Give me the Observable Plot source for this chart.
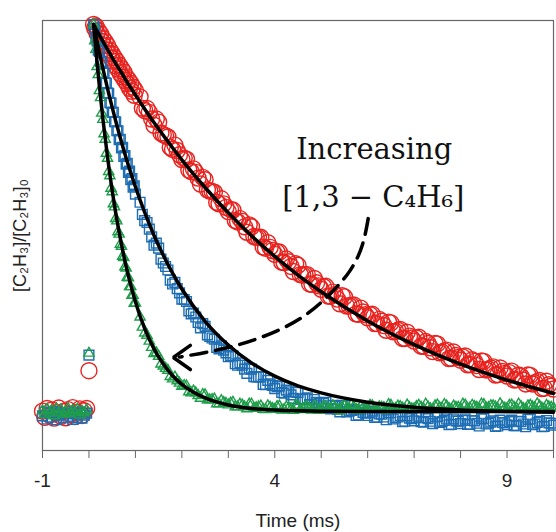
<!DOCTYPE html>
<html>
<head>
<meta charset="utf-8">
<script src="https://cdn.jsdelivr.net/npm/d3@7"></script>
<script src="https://cdn.jsdelivr.net/npm/@observablehq/plot@0.6"></script>
<style>
  html, body { margin: 0; padding: 0; background: #fff; }
  #chart { width: 556px; height: 532px; }
</style>
</head>
<body>
<div id="chart"></div>
<script>
// ---- time grids (ms) ----
const preTimes = d3.range(-1, -0.0499, 0.05);          // 20 pre-trigger samples
const decayTimes = [...d3.range(0.1, 1.0001, 0.025), ...d3.range(1.1, 10.0001, 0.1)]; // 127 samples
const midTimes = d3.range(1.15, 9.9501, 0.1);          // 89 in-between samples
const spikeTime = [0.0];

// ---- series labels ----
const series = ["low", "mid", "high"];

// ---- pre-trigger values ----
const redPre   = [0.006,-0.010,0.013,-0.004,0.009,-0.012,0.002,0.014,-0.007,0.005,-0.011,0.010,-0.002,0.015,-0.008,0.003,0.012,-0.005,0.007,0.013];
const bluePre  = [-0.006,0.004,-0.014,0.001,-0.009,0.005,-0.016,-0.003,0.002,-0.011,0.000,-0.007,0.004,-0.015,-0.001,-0.010,0.003,-0.012,-0.004,0.001];
const greenPre = [0.007,-0.003,0.011,0.001,0.008,-0.006,0.012,0.002,0.009,-0.002,0.005,0.013,0.000,0.008,0.003,0.011,-0.004,0.006,0.002,0.009];

// ---- spike at t = 0 ----
const redSpike = [0.11];
const blueSpike = [0.15];
const greenSpike = [0.155];

// ---- decay data (main grid) ----
const redDecay = [
  1.000,0.990,0.996,0.977,0.985,0.966,0.976,0.957,0.964,0.945,0.956,0.935,0.946,0.925,0.934,0.914,0.925,0.905,0.915,0.894,
  0.906,0.885,0.896,0.874,0.887,0.865,0.878,0.856,0.866,0.847,0.858,0.836,0.849,0.828,0.839,0.818,0.830,
  0.814,0.779,0.774,0.741,0.749,0.717,0.711,0.679,0.676,0.653,
  0.654,0.622,0.620,0.590,0.601,0.572,0.569,0.539,0.539,0.519,
  0.523,0.493,0.494,0.466,0.480,0.453,0.453,0.425,0.427,0.409,
  0.415,0.388,0.390,0.365,0.381,0.356,0.357,0.332,0.336,0.319,
  0.327,0.301,0.306,0.282,0.300,0.277,0.279,0.255,0.261,0.246,
  0.255,0.231,0.237,0.214,0.233,0.211,0.216,0.193,0.199,0.186,
  0.196,0.173,0.180,0.159,0.179,0.158,0.163,0.142,0.149,0.137,
  0.148,0.126,0.134,0.113,0.134,0.114,0.120,0.100,0.108,0.096,
  0.109,0.087,0.096,0.076,0.098,0.079,0.085,0.065,0.074,0.063
];
const blueDecay = [
  1.000,0.990,0.964,0.958,0.934,0.931,0.905,0.902,0.877,0.875,0.850,0.849,0.824,0.823,0.799,0.798,0.774,0.774,0.750,0.750,
  0.727,0.727,0.704,0.705,0.683,0.684,0.661,0.663,0.641,0.643,0.620,0.623,0.601,0.604,0.582,0.585,0.564,
  0.543,0.496,0.474,0.433,0.425,0.387,0.369,0.333,0.321,0.294,
  0.288,0.256,0.248,0.220,0.224,0.198,0.191,0.166,0.163,0.146,
  0.148,0.124,0.124,0.103,0.114,0.094,0.094,0.074,0.076,0.064,
  0.071,0.052,0.056,0.039,0.054,0.037,0.040,0.023,0.029,0.020,
  0.029,0.012,0.019,0.004,0.020,0.006,0.011,-0.004,0.003,-0.005,
  0.006,-0.010,-0.002,-0.016,0.002,-0.011,-0.005,-0.020,-0.012,-0.019,
  -0.007,-0.022,-0.013,-0.026,-0.008,-0.021,-0.014,-0.028,-0.019,-0.026,
  -0.014,-0.028,-0.019,-0.032,-0.013,-0.025,-0.019,-0.032,-0.023,-0.029,
  -0.017,-0.031,-0.021,-0.034,-0.014,-0.027,-0.020,-0.033,-0.024,-0.030
];
const greenDecay = [
  1.000,0.958,0.936,0.892,0.871,0.830,0.812,0.772,0.756,0.719,0.705,0.669,0.656,0.622,0.611,0.579,0.570,0.539,0.531,0.501,
  0.495,0.467,0.461,0.435,0.430,0.404,0.401,0.377,0.374,0.350,0.349,0.326,0.326,0.304,0.304,0.283,0.284,
  0.248,0.207,0.186,0.154,0.147,0.122,0.111,0.089,0.084,0.070,
  0.071,0.053,0.053,0.039,0.048,0.035,0.037,0.025,0.028,0.022,
  0.029,0.017,0.022,0.012,0.024,0.015,0.019,0.010,0.016,0.011,
  0.019,0.010,0.015,0.008,0.020,0.012,0.016,0.009,0.014,0.010,
  0.018,0.011,0.015,0.007,0.019,0.012,0.017,0.009,0.014,0.011,
  0.020,0.012,0.016,0.009,0.021,0.013,0.018,0.010,0.015,0.012,
  0.021,0.013,0.017,0.010,0.022,0.014,0.019,0.011,0.016,0.013,
  0.022,0.014,0.018,0.011,0.023,0.015,0.020,0.012,0.017,0.013,
  0.022,0.014,0.018,0.011,0.021,0.015,0.019,0.012,0.017,0.014
];

// ---- decay data (in-between samples, t = 1.15 ... 9.95) ----
const redMid = [
  0.785,0.784,0.757,0.757,0.721,0.714,0.684,0.690,0.665,0.656,
  0.626,0.629,0.605,0.607,0.575,0.571,0.543,0.552,0.530,0.524,
  0.496,0.501,0.480,0.485,0.455,0.453,0.428,0.439,0.419,0.415,
  0.389,0.397,0.378,0.385,0.357,0.357,0.333,0.347,0.328,0.326,
  0.302,0.312,0.294,0.303,0.276,0.278,0.256,0.271,0.254,0.254,
  0.231,0.242,0.226,0.235,0.210,0.214,0.193,0.209,0.194,0.194,
  0.173,0.185,0.169,0.180,0.156,0.161,0.141,0.158,0.144,0.145,
  0.125,0.138,0.123,0.135,0.112,0.117,0.099,0.117,0.103,0.105,
  0.086,0.099,0.086,0.099,0.076,0.082,0.064,0.083,0.070
];
const blueMid = [
  0.512,0.491,0.454,0.438,0.397,0.378,0.343,0.337,0.310,0.293,
  0.264,0.258,0.234,0.231,0.202,0.194,0.170,0.174,0.156,0.149,
  0.128,0.130,0.114,0.117,0.095,0.094,0.075,0.085,0.072,0.069,
  0.054,0.060,0.048,0.055,0.036,0.038,0.023,0.036,0.026,0.026,
  0.013,0.021,0.011,0.021,0.004,0.008,-0.005,0.009,0.001,0.002,
  -0.010,-0.001,-0.009,0.002,-0.014,-0.009,-0.021,-0.006,-0.013,-0.011,
  -0.021,-0.011,-0.020,-0.008,-0.023,-0.018,-0.029,-0.014,-0.020,-0.018,
  -0.028,-0.018,-0.025,-0.013,-0.027,-0.022,-0.033,-0.017,-0.024,-0.021,
  -0.031,-0.020,-0.027,-0.015,-0.029,-0.023,-0.034,-0.018,-0.025
];
const greenMid = [
  0.222,0.201,0.170,0.156,0.127,0.116,0.095,0.094,0.078,0.072,
  0.056,0.058,0.046,0.049,0.035,0.036,0.025,0.033,0.026,0.027,
  0.017,0.024,0.017,0.024,0.013,0.017,
  0.011,0.020,0.013,0.018,0.009,0.017,0.012,0.021,0.010,0.016,
  0.013,0.019,0.008,0.017,0.012,0.020,0.011,0.016,0.014,0.022,
  0.010,0.018,0.013,0.021,0.012,0.017,0.015,0.023,0.011,0.019,
  0.014,0.022,0.012,0.018,0.016,0.024,0.012,0.020,0.015,0.023,
  0.013,0.019,0.016,0.024,0.013,0.021,0.016,0.024,0.014,0.020,
  0.017,0.025,0.014,0.021,0.016,0.024,0.013,0.020,0.017,0.025,
  0.014,0.021,0.016
];

// ---- fitted curves (black) ----
const fitTimes = [0.1,0.2,0.3,0.4,0.5,0.6,0.7,0.8,0.9,1.0,1.2,1.4,1.6,1.8,2.0,2.5,3.0,3.5,4.0,4.5,5.0,6.0,7.0,8.0,9.0,10.0];
const redFit   = [1.000,0.978,0.957,0.936,0.915,0.895,0.876,0.856,0.837,0.819,0.783,0.748,0.715,0.683,0.652,0.581,0.516,0.457,0.404,0.356,0.313,0.238,0.177,0.127,0.086,0.052];
const blueFit  = [1.000,0.942,0.887,0.835,0.787,0.741,0.698,0.657,0.619,0.583,0.517,0.458,0.407,0.361,0.320,0.237,0.176,0.130,0.096,0.071,0.053,0.029,0.016,0.009,0.005,0.003];
const greenFit = [1.000,0.870,0.757,0.659,0.573,0.499,0.435,0.378,0.330,0.287,0.218,0.166,0.127,0.097,0.075,0.040,0.022,0.013,0.009,0.007,0.006,0.005,0.005,0.005,0.005,0.005];

// ---- annotation ----
const annotLines = ["Increasing", "[1,3 \u2212 C\u2084H\u2086]"];
const annotTime = [6.14, 6.12];
const annotValue = [0.679, 0.555];
const arrowTime  = [6.011,5.882,5.624,5.194,4.548,3.688,2.828,1.95];
const arrowValue = [0.501,0.432,0.368,0.308,0.244,0.195,0.165,0.145];
const headTime  = [2.183,1.817,2.183];
const headValue = [0.175,0.144,0.113];

// ---- axis text ----
const xTicks = [-1,0,1,2,3,4,5,6,7,8,9,10];
const xTickLabels = [-1,4,9];
const xTitle = "Time (ms)";
const yTitle = "[C\u2082H\u2083]/[C\u2082H\u2083]\u2080";

// ---- build rows ----
function rows(ts, vs) { return ts.map((t, i) => ({t, v: vs[i]})); }
const redRows   = [...rows(preTimes, redPre),   ...rows(spikeTime, redSpike),   ...rows(decayTimes, redDecay),   ...rows(midTimes, redMid)];
const blueRows  = [...rows(preTimes, bluePre),  ...rows(spikeTime, blueSpike),  ...rows(decayTimes, blueDecay),  ...rows(midTimes, blueMid)];
const greenRows = [...rows(preTimes, greenPre), ...rows(spikeTime, greenSpike), ...rows(decayTimes, greenDecay), ...rows(midTimes, greenMid)];
const fitRows = [
  ...fitTimes.map((t,i)=>({t, v: redFit[i], s: series[0]})),
  ...fitTimes.map((t,i)=>({t, v: blueFit[i], s: series[1]})),
  ...fitTimes.map((t,i)=>({t, v: greenFit[i], s: series[2]}))
];
const annotRows = annotLines.map((txt,i)=>({txt, t: annotTime[i], v: annotValue[i]}));
const arrowRows = rows(arrowTime, arrowValue);
const headRows = rows(headTime, headValue);

const RED = "#e8221e", BLUE = "#1c6db3", GREEN = "#1e9e4a";

const chart = Plot.plot({
  width: 556,
  height: 532,
  marginLeft: 42,
  marginRight: 3,
  marginTop: 20,
  marginBottom: 82,
  style: {fontFamily: "'Liberation Sans', Arial, sans-serif", fontSize: "18px", background: "#fff", color: "#222"},
  x: {domain: [-1, 10]},
  y: {domain: [-0.0951, 1.0103], axis: null},
  marks: [
    Plot.frame({stroke: "#666", strokeWidth: 1.2}),
    Plot.axisX({ticks: xTicks, tickSize: 8, tickPadding: 15, stroke: "#666", fontSize: 19,
      tickFormat: d => xTickLabels.includes(d) ? String(d) : "", label: null, fill: "#222"}),
    Plot.text([xTitle], {frameAnchor: "bottom", dy: 70, text: d => d, fill: "#222", fontSize: 19, lineAnchor: "middle", textAnchor: "middle"}),
    Plot.text([yTitle], {frameAnchor: "left", dx: -22, rotate: -90, text: d => d, fill: "#222", fontSize: 18, lineAnchor: "middle", textAnchor: "middle"}),
    Plot.dot(redRows, {x: "t", y: "v", r: 8, stroke: RED, strokeWidth: 1.4, fill: "none"}),
    Plot.dot(blueRows, {x: "t", y: "v", symbol: "square", r: 5.5, stroke: BLUE, strokeWidth: 1.4, fill: "none"}),
    Plot.dot(greenRows, {x: "t", y: "v", symbol: "triangle", r: 3.8, stroke: GREEN, strokeWidth: 1.4, fill: "none"}),
    Plot.line(fitRows, {x: "t", y: "v", z: "s", stroke: "#000", strokeWidth: 3.5, curve: "monotone-x"}),
    Plot.line(arrowRows, {x: "t", y: "v", stroke: "#000", strokeWidth: 3.5, strokeDasharray: "16,9", curve: "natural"}),
    Plot.line(headRows, {x: "t", y: "v", stroke: "#000", strokeWidth: 3.5, strokeLinejoin: "miter"}),
    Plot.text(annotRows, {x: "t", y: "v", text: "txt", fontFamily: "'DejaVu Serif', serif", fontSize: 29, fill: "#111", lineAnchor: "middle"})
  ]
});
document.getElementById("chart").appendChild(chart);
</script>
</body>
</html>
